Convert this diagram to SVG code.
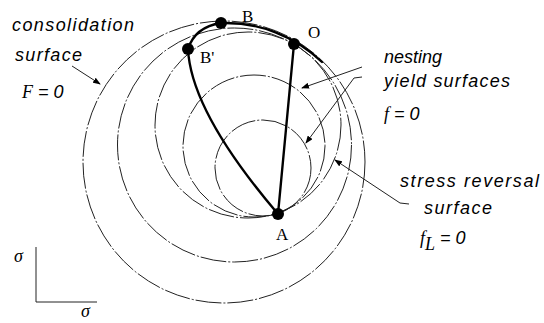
<svg xmlns="http://www.w3.org/2000/svg" width="544" height="323" viewBox="0 0 544 323">
<style>
.surf{fill:none;stroke:#222;stroke-width:1;stroke-dasharray:26 2 2 2}
.path{fill:none;stroke:#000;stroke-width:2.4;stroke-linecap:round}
.lead{fill:none;stroke:#222;stroke-width:1}
.dot{fill:#000}
.lbl{font-family:"Liberation Sans",Arial,sans-serif;font-style:italic;font-size:18px;fill:#000}
.math{font-family:"Liberation Serif","Times New Roman",serif;font-style:italic;font-size:18px;fill:#000}
.pt{font-family:"Liberation Serif","Times New Roman",serif;font-size:17px;fill:#000}
</style>
<defs>
<marker id="ah" markerWidth="8" markerHeight="6" refX="7" refY="3" orient="auto" markerUnits="userSpaceOnUse">
<path d="M0,0 L8,3 L0,6 Z" fill="#000"/>
</marker>
</defs>
<g id="surfaces">
<circle id="consolidation" class="surf" cx="224" cy="162" r="141"/>
<circle id="c2" class="surf" cx="234.5" cy="145" r="117"/>
<circle id="stress-reversal" class="surf" cx="248" cy="125" r="93"/>
<circle id="c4" class="surf" cx="254" cy="146" r="71"/>
<circle id="c5" class="surf" cx="263" cy="168" r="48"/>
</g>
<g id="connectors">
<path class="path" d="M221,23 A139,139 0 0 1 322,62"/>
<path class="path" d="M221,23 Q195,27 188,49"/>
<path class="path" d="M188,49 Q191,112 278,214"/>
<path class="path" d="M294,44 L278,214"/>
<path class="lead" d="M72,66 L100,84" marker-end="url(#ah)"/>
<path class="lead" d="M362,67 L302,88" marker-end="url(#ah)"/>
<path class="lead" d="M362,77 L354,78 L306,143" marker-end="url(#ah)"/>
<path class="lead" d="M409,204 L400,203 L335,160" marker-end="url(#ah)"/>
<path class="lead" d="M36,247 L36,302 L97,302"/>
</g>
<g id="node-B"><circle class="dot" cx="221" cy="23" r="6"/><text class="pt" x="242" y="22">B</text></g>
<g id="node-Bp"><circle class="dot" cx="188" cy="49" r="6"/><text class="pt" x="200" y="63">B'</text></g>
<g id="node-O"><circle class="dot" cx="294" cy="44" r="6"/><text class="pt" x="308" y="38">O</text></g>
<g id="node-A"><circle class="dot" cx="278" cy="214" r="6"/><text class="pt" x="276" y="240">A</text></g>
<g id="label-consolidation">
<text class="lbl" x="12" y="31" textLength="122" lengthAdjust="spacing">consolidation</text>
<text class="lbl" x="15" y="61" textLength="67" lengthAdjust="spacing">surface</text>
<text x="22" y="98"><tspan class="math">F</tspan><tspan class="lbl"> = 0</tspan></text>
</g>
<g id="label-nesting">
<text class="lbl" x="384" y="63">nesting</text>
<text class="lbl" x="384" y="87" textLength="126" lengthAdjust="spacing">yield surfaces</text>
<text x="384" y="120"><tspan class="math">f</tspan><tspan class="lbl"> = 0</tspan></text>
</g>
<g id="label-reversal">
<text class="lbl" x="400" y="187" textLength="139" lengthAdjust="spacing">stress reversal</text>
<text class="lbl" x="424" y="214" textLength="68" lengthAdjust="spacing">surface</text>
<text x="420" y="244"><tspan class="math">f</tspan><tspan class="math" font-size="12" dy="6">L</tspan><tspan class="lbl" dy="-6"> = 0</tspan></text>
</g>
<g id="axes">
<text class="math" x="14" y="262" font-size="20">σ</text>
<text class="math" x="81" y="317" font-size="20">σ</text>
</g>
</svg>
